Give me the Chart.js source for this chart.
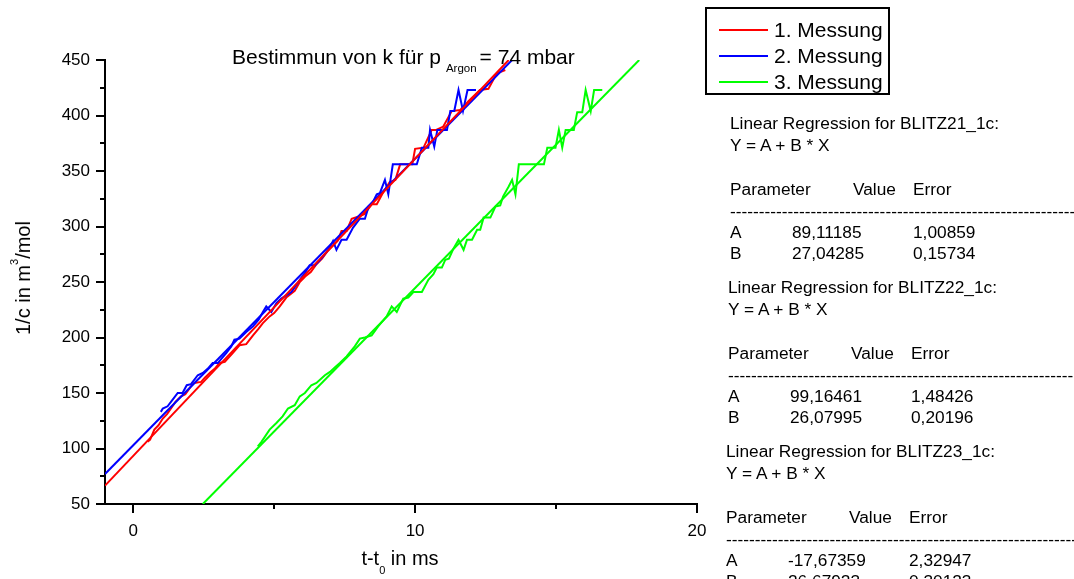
<!DOCTYPE html>
<html>
<head>
<meta charset="utf-8">
<title>Bestimmun von k für p Argon = 74 mbar</title>
<script src="https://cdn.jsdelivr.net/npm/chart.js"></script>
<style>
    html, body { margin: 0; padding: 0; background: #fff; overflow: hidden; }
    body { width: 1074px; height: 579px; position: relative; color: #000;
           font-family: "Liberation Sans", Arial, sans-serif; }
    #chart { position: absolute; left: 0; top: 0; }
    .t { position: absolute; white-space: nowrap; }
    .sub, .sup { line-height: 0; }
    #title { left: 232px; top: 45px; font-size: 21px; line-height: 24px; }
    #title .sub { font-size: 11.5px; vertical-align: -8px; margin-left: 5px; margin-right: 3px; }
    #ytitle { left: 23px; top: 278px; font-size: 20px; line-height: 24px;
              transform: translate(-50%, -50%) rotate(-90deg); }
    #ytitle .sup { font-size: 11px; vertical-align: 12px; }
    #xtitle { left: 400px; top: 546px; font-size: 20px; line-height: 24px; transform: translateX(-50%); }
    #xtitle .sub { font-size: 11px; vertical-align: -9px; }
    #legend { position: absolute; left: 705px; top: 7px; width: 185px; height: 88px;
              border: 2px solid #000; box-sizing: border-box; }
    .leg-line { position: absolute; height: 2px; width: 49px; }
    .leg-text { font-size: 21px; line-height: 24px; }
    .reg { font-size: 17.3px; line-height: 20px; }
</style>
</head>
<body>
<canvas id="chart" width="1074" height="579"></canvas>
<div class="t" id="title">Bestimmun von k für p<span class="sub">Argon</span>= 74 mbar</div>
<div class="t" id="ytitle">1/c in m<span class="sup">3</span>/mol</div>
<div class="t" id="xtitle">t-t<span class="sub">0</span> in ms</div>
<div id="legend"></div>
<div id="panel"></div>

<script>
// axis ticks
const xTicks = [0, 5, 10, 15, 20];
const yTicks = [50, 75, 100, 125, 150, 175, 200, 225, 250, 275, 300, 325, 350, 375, 400, 425, 450];

const seriesNames = ['1. Messung', '2. Messung', '3. Messung'];
const seriesColors = ['#ff0000', '#0000ff', '#00ff00'];

// measured points [t-t0, 1/c]
const red = [[0.51,106],[0.60,108],[0.75,117],[0.90,121],[1.05,127],[1.20,131],[1.34,136],[1.50,142],
    [1.70,147],[1.85,149],[2.05,156],[2.17,159],[2.41,160],[2.55,164],[2.75,169],[2.90,172],[3.06,177],
    [3.25,178],[3.53,186],[3.77,193],[4.01,194],[4.25,202],[4.45,208],[4.60,213],[4.84,219],[5.00,222],
    [5.20,228],[5.43,236],[5.73,242],[5.91,250],[6.10,255],[6.30,259],[6.50,266],[6.70,271],[6.90,278],
    [7.10,283],[7.25,287],[7.39,296],[7.57,296],[7.75,307],[8.00,309],[8.20,311],[8.46,320],[8.64,320],
    [8.85,330],[9.10,340],[9.30,342],[9.47,356],[9.90,356],[10.00,370],[10.30,371],[10.59,387],[10.75,387],
    [11.00,390],[11.30,404],[11.60,405],[11.90,413],[12.30,423],[12.60,424],[12.90,438],[13.20,441]];

const blue = [[0.98,133],[1.05,136],[1.22,138],[1.40,144],[1.58,150],[1.75,150],[1.90,157],[2.05,158],
    [2.29,166],[2.47,168],[2.65,172],[2.82,177],[3.00,177],[3.30,186],[3.48,192],[3.59,198],[3.77,199],
    [4.01,205],[4.25,210],[4.45,216],[4.60,223],[4.72,228],[4.90,223],[5.08,231],[5.25,235],[5.43,238],
    [5.61,241],[5.75,246],[5.91,252],[6.09,258],[6.26,265],[6.45,265],[6.70,272],[6.95,280],[7.09,287],
    [7.21,279],[7.39,288],[7.57,288],[7.80,299],[8.04,307],[8.22,307],[8.34,317],[8.50,322],[8.64,329],
    [8.75,330],[8.93,342],[9.05,329],[9.21,356],[10.06,356],[10.24,371],[10.47,371],[10.53,387],[10.68,372],
    [10.79,387],[11.13,387],[11.25,404],[11.39,404],[11.54,423],[11.70,404],[11.86,423],[12.16,423]];

const green = [[4.42,102],[4.55,106],[4.84,117],[5.08,123],[5.30,129],[5.49,136],[5.73,139],[5.91,147],
    [6.09,150],[6.32,157],[6.50,159],[6.80,166],[6.98,169],[7.15,173],[7.33,177],[7.57,183],[7.86,192],
    [8.04,199],[8.22,200],[8.46,202],[8.69,210],[8.99,219],[9.17,228],[9.35,223],[9.58,235],[9.76,236],
    [9.94,241],[10.24,241],[10.47,252],[10.65,257],[10.77,263],[10.95,263],[11.07,270],[11.20,271],
    [11.36,280],[11.54,288],[11.72,279],[11.84,288],[12.02,288],[12.20,297],[12.31,297],[12.43,308],
    [12.67,308],[12.85,318],[13.02,319],[13.12,327],[13.32,336],[13.44,342],[13.56,329],[13.68,356],
    [14.57,356],[14.69,371],[14.98,371],[15.10,387],[15.22,371],[15.34,387],[15.63,387],[15.75,403],
    [15.93,403],[16.05,423],[16.23,404],[16.35,423],[16.64,423]];

// regression lines, end points as drawn
const redFit = [[-1, 66.5], [13.32, 450]];
const blueFit = [[-1, 77], [13.44, 450]];
const greenFit = [[2.47, 50], [17.95, 450]];

// regression report
const regNames = ['BLITZ21_1c', 'BLITZ22_1c', 'BLITZ23_1c'];
const regA = ['89,11185', '99,16461', '-17,67359'];
const regAErr = ['1,00859', '1,48426', '2,32947'];
const regB = ['27,04285', '26,07995', '26,67923'];
const regBErr = ['0,15734', '0,20196', '0,30123'];

const pts = arr => arr.map(p => ({x: p[0], y: p[1]}));

function line(data, color, order) {
    return {
        data: pts(data),
        borderColor: color,
        borderWidth: 2,
        pointRadius: 0,
        tension: 0,
        fill: false,
        order: order
    };
}

// small outward tick marks, majors longer
const tickMarks = {
    id: 'tickMarks',
    afterDraw(chart) {
        const ctx = chart.ctx, xs = chart.scales.x, ys = chart.scales.y;
        ctx.save();
        ctx.strokeStyle = '#000';
        ctx.lineWidth = 2;
        ctx.beginPath();
        xs.ticks.forEach(t => {
            const px = Math.round(xs.getPixelForValue(t.value));
            const len = t.value % 10 === 0 ? 9 : 5;
            ctx.moveTo(px, xs.top);
            ctx.lineTo(px, xs.top + len);
        });
        ys.ticks.forEach(t => {
            const py = Math.round(ys.getPixelForValue(t.value));
            const len = t.value % 50 === 0 ? 9 : 5;
            ctx.moveTo(ys.right, py);
            ctx.lineTo(ys.right - len, py);
        });
        ctx.stroke();
        ctx.restore();
    }
};

Chart.defaults.font.family = '"Liberation Sans", Arial, sans-serif';
Chart.defaults.font.size = 17;
Chart.defaults.color = '#000';

new Chart(document.getElementById('chart'), {
    type: 'line',
    data: {
        datasets: [
            line(redFit, seriesColors[0], 0),
            line(blueFit, seriesColors[1], 1),
            line(greenFit, seriesColors[2], 2),
            line(blue, seriesColors[1], 3),
            line(red, seriesColors[0], 4),
            line(green, seriesColors[2], 5)
        ]
    },
    options: {
        responsive: false,
        devicePixelRatio: 1,
        animation: false,
        layout: { padding: { left: 0, top: 60, right: 377, bottom: 0 } },
        plugins: { legend: { display: false }, tooltip: { enabled: false }, title: { display: false } },
        scales: {
            x: {
                type: 'linear', position: 'bottom', min: -1, max: 20,
                grid: { display: false, drawTicks: false },
                border: { display: true, color: '#000', width: 2 },
                afterBuildTicks: s => { s.ticks = xTicks.map(v => ({value: v})); },
                afterFit: s => { s.height = 75; },
                ticks: { padding: 17, maxRotation: 0, autoSkip: false,
                         callback: v => (v % 10 === 0 ? String(v) : '') }
            },
            y: {
                type: 'linear', position: 'left', min: 50, max: 450,
                grid: { display: false, drawTicks: false },
                border: { display: true, color: '#000', width: 2 },
                afterBuildTicks: s => { s.ticks = yTicks.map(v => ({value: v})); },
                afterFit: s => { s.width = 105; },
                ticks: { padding: 15, autoSkip: false,
                         callback: v => (v % 50 === 0 ? String(v) : '') }
            }
        }
    },
    plugins: [tickMarks]
});

// legend box
const legend = document.getElementById('legend');
const legLineY = [28, 54, 80];
seriesNames.forEach((name, i) => {
    const l = document.createElement('div');
    l.className = 'leg-line';
    l.style.left = (717 - 705) + 'px';
    l.style.top = (legLineY[i] - 7 - 1) + 'px';
    l.style.background = seriesColors[i];
    legend.appendChild(l);
    const t = document.createElement('div');
    t.className = 't leg-text';
    t.style.left = (772 - 705) + 'px';
    t.style.top = (legLineY[i] - 12 - 7) + 'px';
    t.textContent = name;
    legend.appendChild(t);
});

// regression report on the right
const panel = document.getElementById('panel');
const blockTop = [123, 287, 451];
const blockLeft = [730, 728, 726];
const rowOff = [0, 22, 66, 88, 109, 130];
function put(text, x, yc) {
    const d = document.createElement('div');
    d.className = 't reg';
    d.style.left = x + 'px';
    d.style.top = (yc - 10) + 'px';
    d.textContent = text;
    panel.appendChild(d);
}
regNames.forEach((n, i) => {
    const x0 = blockLeft[i], y0 = blockTop[i];
    put('Linear Regression for ' + n + ':', x0, y0 + rowOff[0]);
    put('Y = A + B * X', x0, y0 + rowOff[1]);
    put('Parameter', x0, y0 + rowOff[2]);
    put('Value', x0 + 123, y0 + rowOff[2]);
    put('Error', x0 + 183, y0 + rowOff[2]);
    put('-'.repeat(64), x0, y0 + rowOff[3]);
    put('A', x0, y0 + rowOff[4]);
    put(regA[i], x0 + 62, y0 + rowOff[4]);
    put(regAErr[i], x0 + 183, y0 + rowOff[4]);
    put('B', x0, y0 + rowOff[5]);
    put(regB[i], x0 + 62, y0 + rowOff[5]);
    put(regBErr[i], x0 + 183, y0 + rowOff[5]);
});
</script>
</body>
</html>
